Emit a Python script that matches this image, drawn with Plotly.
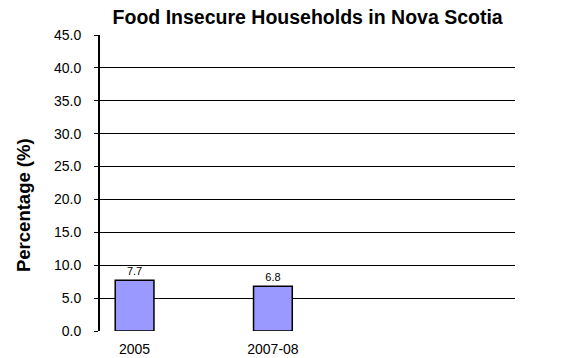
import plotly.graph_objects as go

# Survey periods and share of food insecure households (%)
periods = ["2005", "2007-08"]
period_slots = [0, 2]          # position of each survey period on the timeline
values = [7.7, 6.8]
n_slots = 6

y_ticks = [0, 5, 10, 15, 20, 25, 30, 35, 40, 45]

FONT = "Liberation Sans, Arial"

fig = go.Figure(
    go.Bar(
        x=period_slots,
        y=values,
        width=0.56,
        marker=dict(color="#9999FF", line=dict(color="black", width=1.5)),
        text=[f"{v:.1f}" for v in values],
        textposition="outside",
        textfont=dict(family=FONT, size=11, color="black"),
        cliponaxis=False,
    )
)

fig.update_layout(
    width=564,
    height=358,
    margin=dict(l=100, r=49, t=35, b=27, autoexpand=False),
    plot_bgcolor="white",
    paper_bgcolor="white",
    showlegend=False,
    font=dict(family=FONT, size=14, color="black"),
    title=dict(
        text="<b>Food Insecure Households in Nova Scotia</b>",
        x=0.5455,
        xanchor="center",
        y=0.953,
        yanchor="middle",
        font=dict(size=19.5, color="black"),
    ),
    xaxis=dict(
        range=[-0.5, n_slots - 0.5],
        tickvals=period_slots,
        ticktext=periods,
        showgrid=False,
        zeroline=False,
        showline=False,
        ticks="outside",
        ticklen=5,
        tickcolor="rgba(0,0,0,0)",
        tickfont=dict(size=14),
        automargin=False,
    ),
    yaxis=dict(
        range=[0, 45],
        tickvals=y_ticks,
        ticktext=[f"{t:.1f}" for t in y_ticks],
        showgrid=True,
        gridcolor="black",
        gridwidth=1,
        zeroline=False,
        showline=True,
        linecolor="black",
        linewidth=2,
        ticks="outside",
        ticklen=4,
        tickcolor="black",
        tickwidth=1,
        ticklabelstandoff=10,
        tickfont=dict(size=14),
        automargin=False,
    ),
    annotations=[
        dict(
            text="<b>Percentage (%)</b>",
            textangle=-90,
            xref="paper",
            yref="paper",
            x=-0.186,
            y=0.425,
            xanchor="center",
            yanchor="middle",
            showarrow=False,
            font=dict(size=18.5, color="black"),
        )
    ],
)

fig.write_html("out.html")
